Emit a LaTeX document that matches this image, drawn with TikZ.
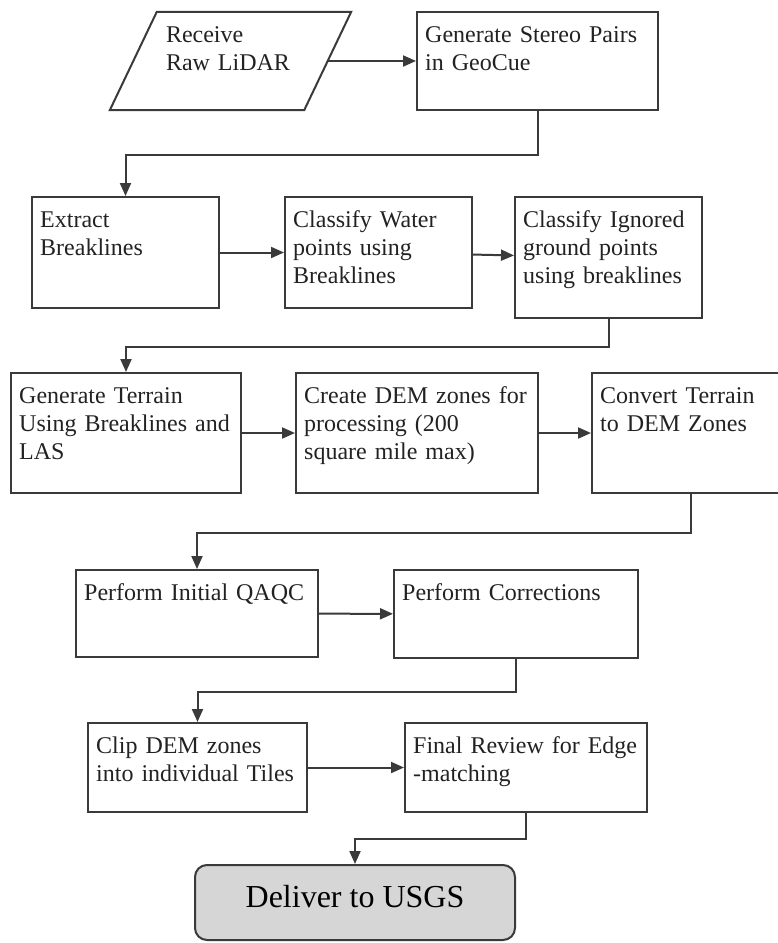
\documentclass[tikz,border=0pt]{standalone}
\usepackage{fontspec}
\setmainfont{Liberation Serif}
\usepackage{tikz}
\usetikzlibrary{arrows.meta}

\definecolor{linegray}{HTML}{3A3A3A}
\definecolor{textgray}{HTML}{222222}
\definecolor{fillgray}{HTML}{D6D6D6}

\begin{document}
\begin{tikzpicture}[
  x=1pt, y=-1pt,
  box/.style={rectangle, draw=linegray, line width=2pt, inner sep=0pt},
  txt/.style={anchor=base west, text width=240pt, align=left, inner sep=0pt, text=textgray, font=\fontsize{24}{28}\selectfont, xshift=9pt, yshift=-31pt},
  arrow/.style={->, >={Triangle[length=13pt, width=11pt]}, draw=linegray, line width=2pt}
]
  \useasboundingbox (0,0) rectangle (778,943);

  % first row
  \node[rectangle, inner sep=0pt, minimum width=194pt, minimum height=98pt,
        label={[txt, xshift=23.5pt]north west:Receive\\Raw LiDAR}] (receive) at (230.5,61) {};
  \draw[linegray, line width=2pt, line join=miter]
    ([xshift=23.5pt]receive.north west) -- ([xshift=23.5pt]receive.north east)
    -- ([xshift=-23.5pt]receive.south east) -- ([xshift=-23.5pt]receive.south west) -- cycle;
  \node[box, minimum width=241pt, minimum height=98pt,
        label={[txt]north west:Generate Stereo Pairs\\in GeoCue}] (stereo) at (537.5,61) {};

  % second row
  \node[box, minimum width=187pt, minimum height=111pt,
        label={[txt]north west:Extract\\Breaklines}] (extract) at (125.5,252.5) {};
  \node[box, minimum width=187pt, minimum height=111pt,
        label={[txt]north west:Classify Water\\points using\\Breaklines}] (water) at (378.5,252.5) {};
  \node[box, minimum width=187pt, minimum height=121pt,
        label={[txt]north west:Classify Ignored\\ground points\\using breaklines}] (ignored) at (608.5,257.5) {};

  % third row
  \node[box, minimum width=230pt, minimum height=120pt,
        label={[txt]north west:Generate Terrain\\Using Breaklines and\\LAS}] (terrain) at (126,433) {};
  \node[box, minimum width=242pt, minimum height=120pt,
        label={[txt]north west:Create DEM zones for\\processing (200\\square mile max)}] (zones) at (417,433) {};
  \node[box, minimum width=198pt, minimum height=120pt,
        label={[txt]north west:Convert Terrain\\to DEM Zones}] (convert) at (691,433) {};

  % fourth row
  \node[box, minimum width=242pt, minimum height=87pt,
        label={[txt]north west:Perform Initial QAQC}] (qaqc) at (197,613.5) {};
  \node[box, minimum width=244pt, minimum height=88pt,
        label={[txt]north west:Perform Corrections}] (corrections) at (516,614) {};

  % fifth row
  \node[box, minimum width=219pt, minimum height=89pt,
        label={[txt]north west:Clip DEM zones\\into individual Tiles}] (clip) at (197.5,767.5) {};
  \node[box, minimum width=242pt, minimum height=89pt,
        label={[txt]north west:Final Review for Edge\\-matching}] (review) at (526,767.5) {};

  \node[box, rounded corners=12pt, fill=fillgray, draw=linegray, minimum width=320pt, minimum height=75pt,
        text depth=13pt, font=\fontsize{32}{36}\selectfont] (deliver) at (355,902.5) {Deliver to USGS};

  \draw[arrow] (receive.east) -- (stereo);
  \draw[arrow] (stereo.south) -- ++(0,44) -| (extract.north);
  \draw[arrow] (extract) -- (water);
  \draw[arrow] (water) -- (ignored);
  \draw[arrow] (ignored.south) -- ++(0,28) -| (terrain.north);
  \draw[arrow] (terrain) -- (zones);
  \draw[arrow] (zones) -- (convert);
  \draw[arrow] (convert.south) -- ++(0,39) -| (qaqc.north);
  \draw[arrow] (qaqc) -- (corrections);
  \draw[arrow] (corrections.south) -- ++(0,33) -| (clip.north);
  \draw[arrow] (clip) -- (review);
  \draw[arrow] (review.south) -- ++(0,26) -| (deliver.north);
\end{tikzpicture}
\end{document}
